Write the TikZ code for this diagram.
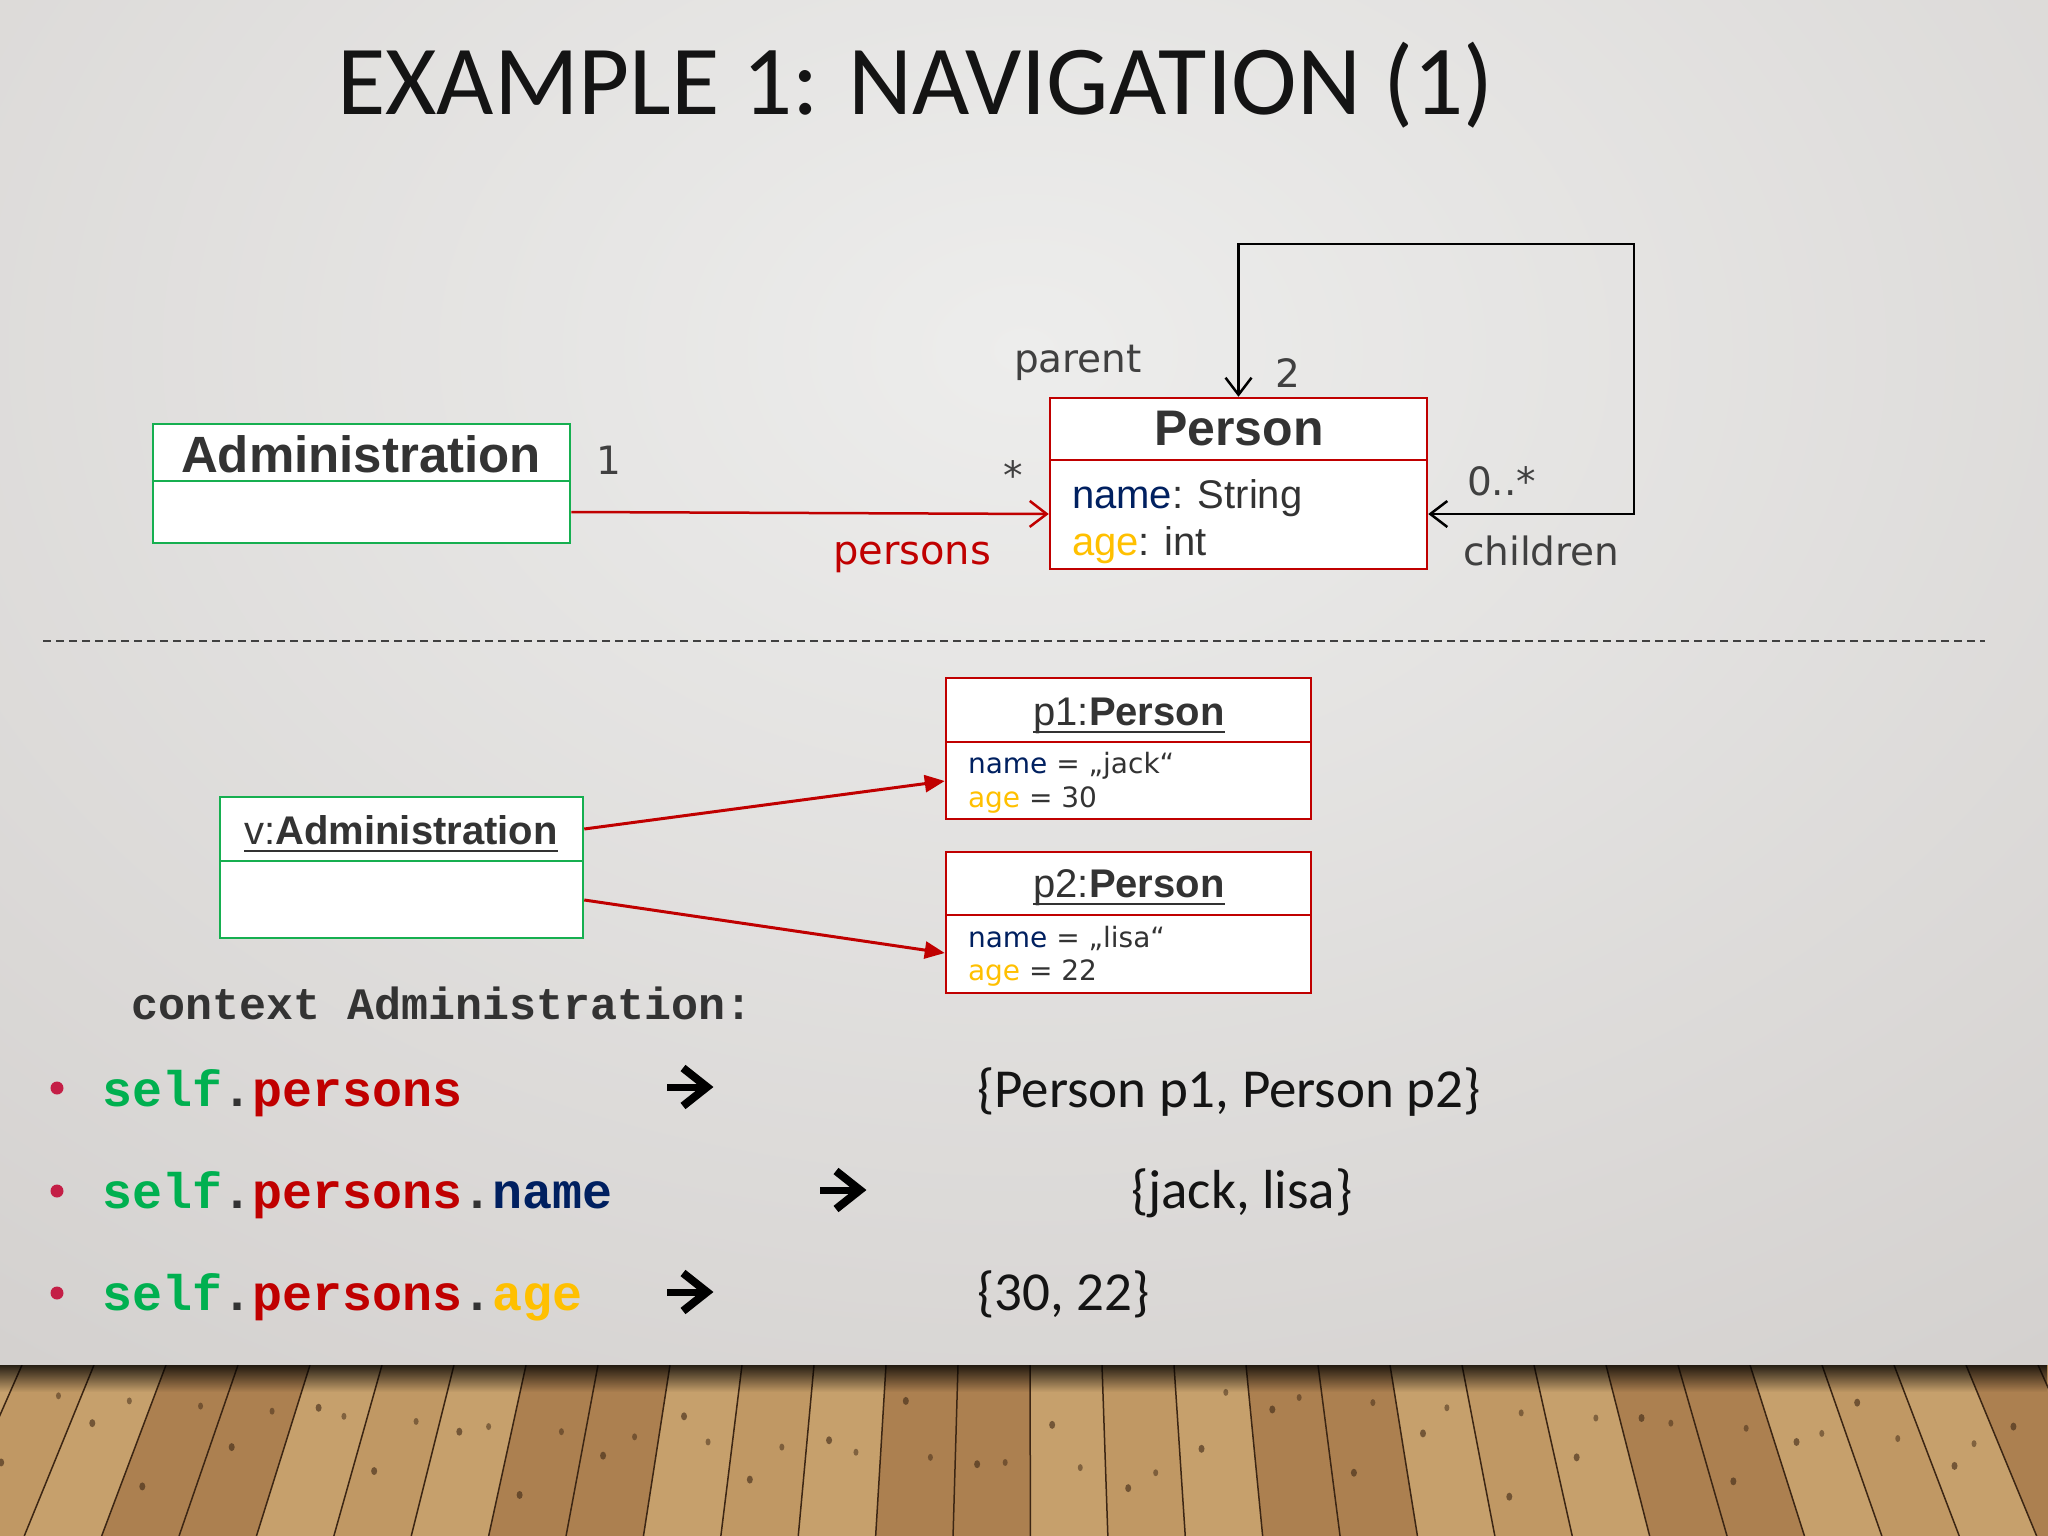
\documentclass[tikz,border=0pt]{standalone}
\usepackage{fontspec}
\setmainfont{Liberation Sans}
\newfontfamily\titlefont{Carlito}
\newfontfamily\lblfont{DejaVu Sans}
\newfontfamily\codefont{Liberation Mono}
\usetikzlibrary{arrows.meta,fadings}
\definecolor{umlgreen}{RGB}{22,175,80}
\definecolor{umlred}{RGB}{192,0,0}
\definecolor{navyc}{RGB}{0,32,96}
\definecolor{goldc}{RGB}{255,192,0}
\definecolor{txtc}{RGB}{51,51,51}
\definecolor{lblc}{RGB}{64,64,64}
\definecolor{titlec}{RGB}{20,20,20}
\definecolor{cgreen}{RGB}{0,176,80}
\definecolor{bulletc}{RGB}{196,30,70}
\definecolor{bgin}{RGB}{237,237,236}
\definecolor{bgout}{RGB}{212,209,207}
\definecolor{wood0}{RGB}{198,160,108}
\definecolor{wood1}{RGB}{182,140,90}
\definecolor{wood2}{RGB}{212,178,128}
\definecolor{wood3}{RGB}{172,128,80}
\definecolor{wood4}{RGB}{192,152,100}
\definecolor{wooddark}{RGB}{60,38,20}
\begin{document}
\begin{tikzpicture}[x=1pt,y=-1pt,
  txt/.style={inner sep=0pt,outer sep=0pt},
  clsbox/.style={draw, fill=white, line width=2.5pt, inner sep=0pt},
  divider/.style={line width=2.5pt},
  lbl/.style={txt, font=\lblfont\fontsize{39}{39}\selectfont, text=lblc},
  clsname/.style={txt, anchor=base, font=\bfseries\fontsize{50}{50}\selectfont, text=txtc},
  attr/.style={txt, anchor=base west, font=\fontsize{40}{40}\selectfont, text=txtc},
  objname/.style={txt, anchor=base, font=\fontsize{40}{40}\selectfont, text=txtc},
  objattr/.style={txt, anchor=base west, font=\lblfont\fontsize{28}{28}\selectfont, text=txtc},
  uline/.style={line width=2.5pt, txtc},
  assoc/.style={line width=2.5pt, -{Straight Barb[length=17pt,width=26pt]}},
  objlink/.style={umlred, line width=3pt, -{Triangle[length=20pt,width=17pt]}},
  code/.style={txt, anchor=base west, font=\codefont\bfseries\fontsize{50}{50}\selectfont, text=txtc},
  result/.style={txt, anchor=base west, font=\titlefont\fontsize{55}{55}\selectfont, text=titlec},
  arrsym/.style={line width=7pt, black},
  bullet/.style={circle, fill=bulletc, minimum size=13pt, inner sep=0pt}
]
\useasboundingbox (0,0) rectangle (2048,1536);
% background
\begin{scope}
\clip (0,0) rectangle (2048,1366);
\shade[inner color=bgin, outer color=bgout] (-700,-900) rectangle (2748,1600);
\end{scope}
% floor
\begin{scope}
\clip (0,1365) rectangle (2048,1536);
\fill[wood1] (0,1365) rectangle (2048,1536);
\foreach \i in {0,...,29}{
  \pgfmathsetmacro{\xa}{\i*72-50}
  \pgfmathsetmacro{\xb}{\xa+72}
  \pgfmathsetmacro{\xab}{1024+(\xa-1024)*1.075}
  \pgfmathsetmacro{\xbb}{1024+(\xb-1024)*1.075}
  \pgfmathtruncatemacro{\wc}{mod(\i*3+\i*\i,5)}
  \fill[wood\wc] (\xa,1365) -- (\xb,1365) -- (\xbb,1536) -- (\xab,1536) -- cycle;
  \pgfmathsetmacro{\ta}{0.2+mod(\i*37,60)/100}
  \pgfmathsetmacro{\kx}{\xa+22+(\xab-\xa)*\ta}
  \pgfmathsetmacro{\ky}{1365+171*\ta}
  \fill[wooddark, opacity=0.6] (\kx,\ky) ellipse (3pt and 4pt);
  \pgfmathsetmacro{\tb}{0.15+mod(\i*53,50)/100}
  \pgfmathsetmacro{\kxb}{\xa+50+(\xab-\xa)*\tb}
  \pgfmathsetmacro{\kyb}{1365+171*\tb}
  \fill[wooddark, opacity=0.5] (\kxb,\kyb) ellipse (2.5pt and 3.5pt);
  \draw[wooddark, line width=1.5pt] (\xa,1365) -- (\xab,1536);
}
\fill[black, path fading=south, fill opacity=0.8] (0,1365) rectangle (2048,1392);
\end{scope}

% title
\node[txt, anchor=base west, font=\titlefont\fontsize{99}{99}\selectfont, text=titlec] (title) at (337,115) {EXAMPLE 1: NAVIGATION (1)};

% class diagram
\node[clsbox, draw=umlgreen, minimum width=417pt, minimum height=119pt] (adm) at (361.5,483.5) {};
\draw[divider, umlgreen] (153,481) -- (570,481);
\node[clsname, font=\bfseries\fontsize{51}{51}\selectfont] (admname) at (361,472) {Administration};

\node[clsbox, draw=umlred, minimum width=377pt, minimum height=171pt] (person) at (1238.5,483.5) {};
\draw[divider, umlred] (1050,460) -- (1427,460);
\node[clsname] (personname) at (1239,445) {Person};
\node[attr] (pattr1) at (1072,508) {\textcolor{navyc}{name}: String};
\node[attr] (pattr2) at (1072,555) {\textcolor{goldc}{age}: int};

\draw[assoc, umlred] ([yshift=-28.5pt]adm.east) -- ([yshift=-30.5pt]person.west);
\coordinate (loopc) at (1634,244);
\draw[line width=2.5pt, black, {Straight Barb[length=17pt,width=26pt]}-{Straight Barb[length=17pt,width=26pt]}]
  ([yshift=-30.5pt]person.east) -| (loopc) -| (person.north);

\node[lbl, anchor=base] (m1) at (609,474) {1};
\node[lbl, anchor=base] (mstar) at (1013,489) {*};
\node[lbl, anchor=base west, text=umlred, font=\lblfont\fontsize{40}{40}\selectfont] (lpersons) at (833,564) {persons};
\node[lbl, anchor=base west] (lparent) at (1014,372) {parent};
\node[lbl, anchor=base] (m2) at (1288,387) {2};
\node[lbl, anchor=base west] (m0s) at (1467,495) {0..*};
\node[lbl, anchor=base west] (lchildren) at (1463,565) {children};

% separator
\coordinate (sepl) at (43,641);
\coordinate (sepr) at (1985,641);
\draw[line width=1.5pt, black!75, dash pattern=on 8pt off 5pt] (sepl) -- (sepr);

% object diagram
\node[clsbox, draw=umlgreen, minimum width=363pt, minimum height=141pt] (vadm) at (401.5,867.5) {};
\draw[divider, umlgreen] (220,861) -- (583,861);
\node[objname] (vadmt) at (401,844) {v:\textbf{Administration}};
\draw[uline] ([yshift=-7pt]vadmt.base west) -- ([yshift=-7pt]vadmt.base east);

\node[clsbox, draw=umlred, minimum width=365pt, minimum height=141pt] (p1) at (1128.5,748.5) {};
\draw[divider, umlred] (946,742) -- (1311,742);
\node[objname] (p1t) at (1129,725) {p1:\textbf{Person}};
\draw[uline] ([yshift=-7pt]p1t.base west) -- ([yshift=-7pt]p1t.base east);
\node[objattr] (p1a) at (968,773) {\textcolor{navyc}{name} = „jack“};
\node[objattr] (p1b) at (968,807) {\textcolor{goldc}{age} = 30};

\node[clsbox, draw=umlred, minimum width=365pt, minimum height=141pt] (p2) at (1128.5,922.5) {};
\draw[divider, umlred] (946,915) -- (1311,915);
\node[objname] (p2t) at (1129,897) {p2:\textbf{Person}};
\draw[uline] ([yshift=-7pt]p2t.base west) -- ([yshift=-7pt]p2t.base east);
\node[objattr] (p2a) at (968,947) {\textcolor{navyc}{name} = „lisa“};
\node[objattr] (p2b) at (968,980) {\textcolor{goldc}{age} = 22};

\draw[objlink] ([yshift=38.5pt]vadm.east) -- ([yshift=-32.5pt]p1.west);
\draw[objlink] ([yshift=-32.5pt]vadm.east) -- ([yshift=-30.5pt]p2.west);

% OCL
\node[code, font=\codefont\bfseries\fontsize{45}{45}\selectfont] (ctx) at (131,1019) {context Administration:};

\node[bullet] (b1) at (57,1088) {};
\node[bullet] (b2) at (57,1191) {};
\node[bullet] (b3) at (57,1293) {};

\node[code] (c1) at (102,1106) {\textcolor{cgreen}{self}.\textcolor{umlred}{persons}};
\node[code] (c2) at (102,1208) {\textcolor{cgreen}{self}.\textcolor{umlred}{persons}.\textcolor{navyc}{name}};
\node[code] (c3) at (102,1310) {\textcolor{cgreen}{self}.\textcolor{umlred}{persons}.\textcolor{goldc}{age}};

% result arrows (symbol)
\coordinate (a1) at (688,1087);
\coordinate (a2) at (841,1190);
\coordinate (a3) at (688,1292);
\foreach \a in {a1,a2,a3}{
  \draw[arrsym] ([xshift=-21pt]\a) -- ([xshift=18pt]\a);
  \draw[arrsym, line width=8pt, miter limit=10] ([xshift=-5pt,yshift=19pt]\a) -- ([xshift=19pt]\a) -- ([xshift=-5pt,yshift=-19pt]\a);
}

\node[result] (r1) at (977,1107) {\{Person p1, Person p2\}};
\node[result] (r2) at (1131,1208) {\{jack, lisa\}};
\node[result] (r3) at (977,1310) {\{30, 22\}};
\end{tikzpicture}
\end{document}
